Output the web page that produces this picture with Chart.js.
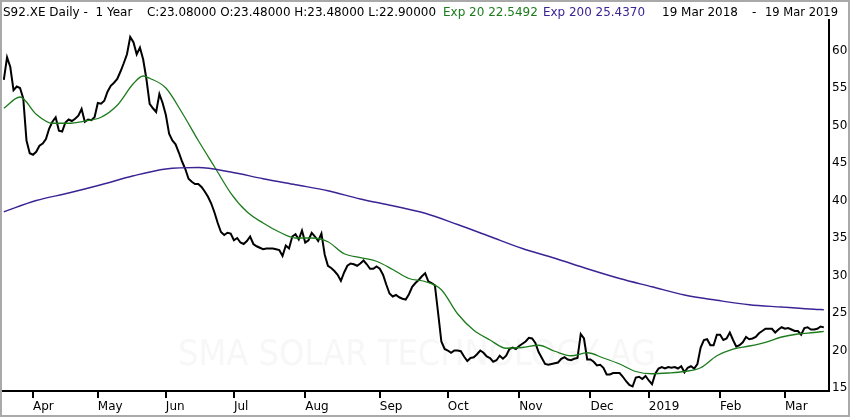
<!DOCTYPE html>
<html>
<head>
<meta charset="utf-8">
<script src="https://cdn.jsdelivr.net/npm/chart.js@4.4.1/dist/chart.umd.min.js"></script>
<style>
  html, body { margin: 0; padding: 0; background: #fff; }
  canvas { display: block; }
</style>
</head>
<body>
<canvas id="chart" width="850" height="417"></canvas>
<script>
  // daily closes, 19 Mar 2018 .. 19 Mar 2019 (one per trading day)
  const closeVals = [
    56.1, 59.1, 57.8, 54.7, 55.2, 55.0, 53.6, 48.0, 46.3, 46.1,
    46.5, 47.3, 47.6, 48.2, 49.6, 50.5, 51.1, 49.3, 49.2, 50.4,
    50.8, 50.6, 50.9, 51.3, 52.2, 50.5, 50.8, 50.7, 51.1, 53.0,
    52.9, 53.3, 54.5, 55.3, 55.7, 56.2, 57.2, 58.3, 59.5, 61.8,
    61.1, 59.5, 60.4, 58.8, 56.2, 52.9, 52.3, 51.8, 54.2, 53.0,
    51.4, 48.9, 48.0, 47.5, 46.4, 45.2, 44.2, 42.9, 42.5, 42.2,
    42.2, 41.8, 41.2, 40.5, 39.6, 38.4, 37.0, 35.8, 35.4, 35.7,
    35.6, 34.7, 35.0, 34.4, 34.2, 34.6, 35.2, 34.2, 33.9, 33.7,
    33.5, 33.6, 33.6, 33.6, 33.5, 33.4, 32.6, 34.0, 33.6, 35.2,
    35.5, 34.8, 36.0, 34.4, 34.7, 35.7, 35.2, 34.6, 35.6, 32.8,
    31.3, 31.0, 30.6, 30.1, 29.3, 30.4, 31.3, 31.6, 31.5, 31.3,
    31.6, 32.0, 31.5, 30.9, 30.9, 31.2, 30.9, 30.1, 28.8, 27.6,
    27.2, 27.4, 27.1, 26.9, 26.8, 27.5, 28.5, 29.0, 29.4, 29.9,
    30.3, 29.2, 29.0, 28.7, 25.0, 21.2, 20.2, 20.0, 19.7, 20.0,
    20.0, 19.9, 19.2, 18.6, 19.0, 19.1, 19.5, 20.0, 19.7, 19.2,
    19.0, 18.5, 18.7, 19.3, 18.9, 19.3, 20.2, 20.4, 20.2, 20.6,
    20.9, 21.2, 21.7, 21.6, 21.0, 19.8, 19.0, 18.2, 18.1, 18.2,
    18.3, 18.4, 18.9, 19.1, 18.8, 18.7, 18.9, 19.0, 22.2, 21.6,
    18.8, 18.8, 18.5, 18.0, 18.1, 17.7, 16.8, 16.8, 17.0, 17.0,
    17.0, 16.5, 15.9, 15.4, 15.2, 16.4, 16.5, 16.2, 16.6, 16.0,
    15.5, 16.9, 17.6, 17.8, 17.6, 17.8, 17.7, 17.8, 17.6, 17.9,
    17.1, 17.7, 17.9, 17.6, 18.2, 20.4, 21.4, 21.5, 20.7, 20.7,
    22.1, 22.1, 21.4, 21.6, 22.4, 21.4, 20.5, 20.7, 21.1, 21.8,
    21.5, 21.6, 21.8, 22.3, 22.6, 22.9, 22.9, 22.9, 22.4, 22.8,
    23.1, 22.9, 23.0, 22.8, 22.6, 22.6, 22.1, 23.0, 23.1, 22.8,
    22.8, 22.9, 23.2, 23.08
  ];

  // exponential averages at these trading-day indices
  const ema20Idx = [0, 5, 10, 15, 20, 25, 30, 35, 40, 43, 45, 50, 55, 60, 65, 70, 75, 80, 85, 90, 95,
    100, 105, 110, 115, 120, 125, 130, 135, 140, 145, 150, 155, 160, 165, 170, 175, 180, 185, 190, 195,
    200, 205, 210, 215, 220, 225, 230, 235, 240, 245, 250, 253];
  const ema20Vals = [52.3, 53.8, 51.5, 50.3, 50.3, 50.6, 51.1, 52.7, 55.6, 56.6, 56.3, 55.0, 51.7, 48.0, 44.5, 41.0, 38.5, 37.0, 35.8, 35.0, 35.0,
    34.5, 32.9, 32.4, 31.9, 30.8, 29.6, 29.2, 28.1, 24.9, 22.7, 21.4, 20.3, 20.4, 20.7, 19.9, 19.3, 19.7, 19.0, 18.2, 17.2,
    16.9, 17.0, 17.2, 17.7, 19.3, 20.2, 20.6, 21.1, 21.8, 22.2, 22.4, 22.55];

  const ema200Idx = [0, 10, 20, 30, 40, 50, 60, 70, 80, 90, 100, 110, 120, 130, 140, 150, 160, 170, 180, 190,
    200, 210, 220, 230, 240, 250, 253];
  const ema200Vals = [38.5, 40.0, 41.0, 42.1, 43.3, 44.2, 44.4, 43.8, 42.9, 42.1, 41.3, 40.2, 39.3, 38.3, 36.8, 35.2, 33.6, 32.3, 30.9, 29.6,
    28.5, 27.4, 26.7, 26.1, 25.8, 25.5, 25.44];

  const monthIdx = [9, 29, 50, 71, 93, 116, 137, 159, 181, 199, 221, 241];
  const monthLabels = ['Apr', 'May', 'Jun', 'Jul', 'Aug', 'Sep', 'Oct', 'Nov', 'Dec', '2019', 'Feb', 'Mar'];
  const yTicks = [15, 20, 25, 30, 35, 40, 45, 50, 55, 60];

  const headerText = ['S92.XE Daily -  1 Year', 'C:23.08000 O:23.48000 H:23.48000 L:22.90000',
    'Exp 20 22.5492', 'Exp 200 25.4370', '19 Mar 2018', '-', '19 Mar 2019'];
  const watermark = 'SMA SOLAR TECHNOLOGY AG';

  const GREEN = '#1c7c1c';
  const PURPLE = '#3b2394';

  const decor = {
    id: 'decor',
    beforeDatasetsDraw(chart) {
      const ctx = chart.ctx;
      ctx.save();
      ctx.font = '36px "DejaVu Sans"';
      ctx.fillStyle = '#f7f7f7';
      ctx.textBaseline = 'alphabetic';
      ctx.fillText(watermark, 178, 365, 478);
      ctx.restore();
    },
    afterDraw(chart) {
      const ctx = chart.ctx;
      ctx.save();
      // header line
      const pos = [[3, 130], [147, 289], [443, 95], [543, 102], [662, 76], [752, 6], [765, 73]];
      const cols = ['#000', '#000', GREEN, PURPLE, '#000', '#000', '#000'];
      ctx.font = '12px "DejaVu Sans"';
      ctx.textBaseline = 'alphabetic';
      headerText.forEach((t, i) => {
        ctx.fillStyle = cols[i];
        ctx.fillText(t, pos[i][0], 16, pos[i][1]);
      });
      // outer frame
      ctx.strokeStyle = '#a9a9a9';
      ctx.lineWidth = 2;
      ctx.strokeRect(1, 1, 848, 415);
      ctx.restore();
    }
  };

  const data = {
    datasets: [
      {
        label: 'Exp 200',
        data: ema200Idx.map((x, i) => ({ x: x, y: ema200Vals[i] })),
        borderColor: PURPLE,
        borderWidth: 1.4,
        pointRadius: 0,
        cubicInterpolationMode: 'monotone'
      },
      {
        label: 'Exp 20',
        data: ema20Idx.map((x, i) => ({ x: x, y: ema20Vals[i] })),
        borderColor: GREEN,
        borderWidth: 1.3,
        pointRadius: 0,
        cubicInterpolationMode: 'monotone'
      },
      {
        label: 'Close',
        data: closeVals.map((v, i) => ({ x: i, y: v })),
        borderColor: '#000',
        borderWidth: 2,
        pointRadius: 0,
        tension: 0
      }
    ]
  };

  const config = {
    type: 'line',
    data: data,
    options: {
      responsive: false,
      animation: false,
      devicePixelRatio: 1,
      layout: { padding: { left: 3, top: 20, right: 0, bottom: 0 } },
      plugins: {
        legend: { display: false },
        tooltip: { enabled: false }
      },
      scales: {
        x: {
          type: 'linear',
          min: -0.25,
          max: 254.6,
          afterBuildTicks: (scale) => { scale.ticks = monthIdx.map(v => ({ value: v })); },
          afterFit: (scale) => { scale.height = 26; },
          ticks: {
            align: 'start',
            autoSkip: false,
            maxRotation: 0,
            padding: 2,
            color: '#000',
            font: { family: 'DejaVu Sans', size: 12 },
            callback: (v) => monthLabels[monthIdx.indexOf(v)]
          },
          grid: { drawOnChartArea: false, drawTicks: true, tickLength: 7, color: '#000', lineWidth: 2 },
          border: { display: true, color: '#000', width: 2 }
        },
        y: {
          position: 'right',
          min: 14.6,
          max: 64.07,
          afterBuildTicks: (scale) => { scale.ticks = yTicks.map(v => ({ value: v })); },
          afterFit: (scale) => { scale.width = 21; },
          ticks: {
            padding: 3,
            color: '#000',
            font: { family: 'DejaVu Sans', size: 12 }
          },
          grid: { display: false, drawTicks: false },
          border: { display: true, color: '#000', width: 2 }
        }
      }
    },
    plugins: [decor]
  };

  const ctx = document.getElementById('chart').getContext('2d');
  new Chart(ctx, config);
</script>
</body>
</html>
